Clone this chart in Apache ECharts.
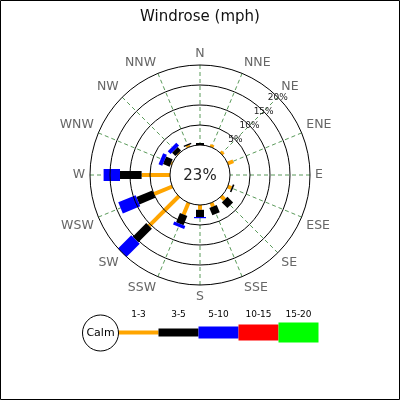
<!DOCTYPE html>
<html>
<head>
<meta charset="utf-8">
<script src="https://cdn.jsdelivr.net/npm/echarts@6/dist/echarts.min.js"></script>
<style>
  html, body { margin: 0; padding: 0; background: #fff; }
  #main { width: 400px; height: 400px; }
</style>
</head>
<body>
<div id="main"></div>
<script>
// compass directions, clockwise from N
var directions = ['N', 'NNE', 'NE', 'ENE', 'E', 'ESE', 'SE', 'SSE',
                  'S', 'SSW', 'SW', 'WSW', 'W', 'WNW', 'NW', 'NNW'];
// speed ranges (mph)
var ranges = ['1-3', '3-5', '5-10', '10-15', '15-20'];
// percent of time per direction, one array per speed range
var speed1to3  = [0,   0.7, 0.7, 1.5, 0, 1.0, 1.2, 1.0, 1.2, 3.2, 10.5, 5.0, 7.1, 0.3, 0.2, 0.5];
var speed3to5  = [0.5, 0,   0,   0,   0, 0.4, 2.0, 2.0, 1.8, 2.5, 4.8,  4.3, 5.4, 1.8, 1.2, 0.3];
var speed5to10 = [0,   0,   0,   0,   0, 0,   0,   0,   0.3, 0.8, 4.7,  4.7, 4.1, 1.0, 1.0, 0];
var calm = 23;

var rangeColors = ['#ffa500', '#000000', '#0000ff', '#ff0000', '#00ff00'];
var rangeWidths = [4, 8, 12, 16, 20];
var font = 'DejaVu Sans';

// angle axis (degrees) starts at NE so the % labels sit on the NE spoke
var step = 360 / directions.length;
function dirAngle(i) { return ((i - 2 + directions.length) % directions.length) * step; }
function angleName(v) { return directions[(Math.round(v / step) + 2) % directions.length]; }

// stacked segments: [end, angle, start, rangeIndex]
var segData = [];
[speed1to3, speed3to5, speed5to10].forEach(function (arr, k) {
    arr.forEach(function (v, i) {
        if (!v) return;
        var start = 0;
        if (k > 0) start += speed1to3[i];
        if (k > 1) start += speed3to5[i];
        segData.push([start + v, dirAngle(i), start, k]);
    });
});

var myChart = echarts.init(document.getElementById('main'));

// legend drawn with graphic elements
var legend = [
    { type: 'circle', shape: { cx: 100.5, cy: 333, r: 18 },
      style: { fill: '#fff', stroke: '#000', lineWidth: 1 }, z: 10 },
    { type: 'text', x: 100.5, y: 333, z: 11,
      style: { text: 'Calm', fill: '#000', font: '11px "' + font + '"', align: 'center', verticalAlign: 'middle' } }
];
ranges.forEach(function (r, i) {
    var x0 = 118.5 + 40 * i;
    legend.push({ type: 'rect', shape: { x: x0, y: 332.5 - rangeWidths[i] / 2, width: 40, height: rangeWidths[i] },
                  style: { fill: rangeColors[i] }, z: 5 });
    legend.push({ type: 'text', x: x0 + 20, y: 315,
                  style: { text: r, fill: '#000', font: '9px "' + font + '"', align: 'center', verticalAlign: 'middle' } });
});
legend.push({ type: 'rect', shape: { x: 0.5, y: 0.5, width: 399, height: 399 },
              style: { fill: 'none', stroke: '#000', lineWidth: 1 }, z: 20 });

var option = {
    animation: false,
    backgroundColor: '#fff',
    title: {
        text: 'Windrose (mph)',
        left: 'center',
        top: 5,
        textStyle: { fontFamily: font, fontSize: 15, fontWeight: 'normal', color: '#111' }
    },
    polar: {
        center: [200, 175],
        radius: [30, 110]
    },
    angleAxis: {
        type: 'value',
        min: 0,
        max: 360,
        interval: step,
        startAngle: 45,
        clockwise: true,
        axisLine: { show: false },
        axisTick: { show: false },
        axisLabel: { formatter: angleName, color: '#666', fontFamily: font, fontSize: 12.5, margin: 5 },
        splitLine: { show: true, lineStyle: { color: '#5a9a5a', width: 1, type: [4, 3] } }
    },
    radiusAxis: {
        type: 'value',
        min: 0,
        max: 20,
        interval: 5,
        axisLine: { show: false },
        axisTick: { show: false },
        axisLabel: {
            formatter: function (v) { return v === 0 ? '' : v + '%'; },
            color: '#222', fontFamily: font, fontSize: 9, margin: 0,
            align: 'center', verticalAlign: 'middle'
        },
        splitLine: { show: true, lineStyle: { color: '#000', width: 1 } },
        z: 10
    },
    series: [
        {
            type: 'custom',
            coordinateSystem: 'polar',
            data: segData,
            renderItem: function (params, api) {
                var a = api.value(1);
                var p0 = api.coord([api.value(2), a]);
                var p1 = api.coord([api.value(0), a]);
                var k = api.value(3);
                return {
                    type: 'line',
                    shape: { x1: p0[0], y1: p0[1], x2: p1[0], y2: p1[1] },
                    style: { stroke: rangeColors[k], lineWidth: rangeWidths[k], lineCap: 'butt' }
                };
            },
            z: 5
        },
        {
            type: 'custom',
            coordinateSystem: 'polar',
            data: [[0, 0, calm]],
            renderItem: function (params, api) {
                return {
                    type: 'text',
                    x: params.coordSys.cx,
                    y: params.coordSys.cy + 1,
                    style: { text: api.value(2) + '%', fill: '#222', font: '15px "' + font + '"',
                             align: 'center', verticalAlign: 'middle' }
                };
            },
            z: 6
        }
    ],
    graphic: legend
};
// 为echarts对象加载数据
myChart.setOption(option);
</script>
</body>
</html>
